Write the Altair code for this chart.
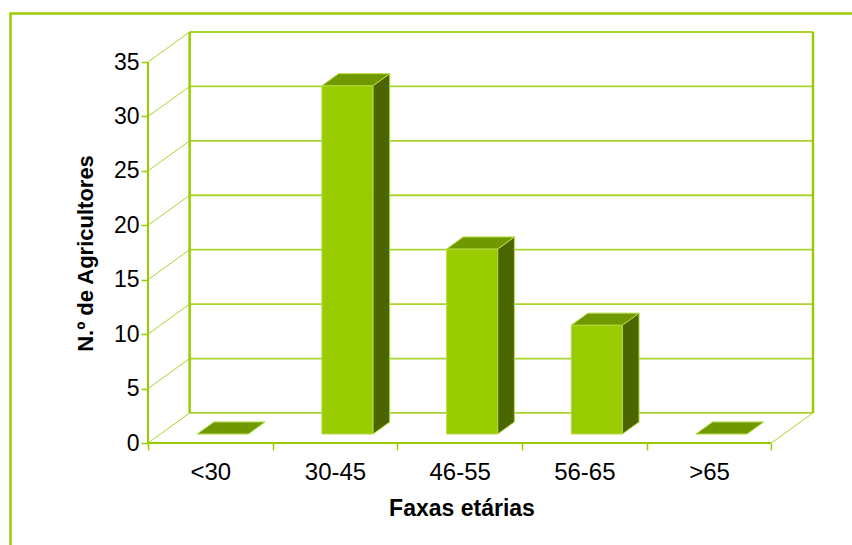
import altair as alt
import pandas as pd

# ---- data ----
CATEGORIES = ["<30", "30-45", "46-55", "56-65", ">65"]
COUNTS = [0, 32, 17, 10, 0]
Y_TICKS = [0, 5, 10, 15, 20, 25, 30, 35]
Y_MAX = 35
X_TITLE = "Faxas etárias"
Y_TITLE = "N.º de Agricultores"

# ---- pseudo-3D geometry (in data units) ----
N = len(CATEGORIES)
DEPTH_X = 0.334     # horizontal shift of the back wall, in categories
DEPTH_Y = 2.76      # vertical shift of the back wall, in counts
BAR_HALF = 0.205    # half bar width, in categories
BAR_D0, BAR_D1 = 0.3, 0.7  # bar depth span (0 = front, 1 = back)

FRONT = "#99cc00"
TOP = "#709900"
SIDE = "#4b6600"
EDGE = "#b5dd3c"
FRAME = "#99cc00"
GRID = "#a9d42c"
FONT = "Liberation Sans"

xscale = alt.Scale(domain=[0, N + DEPTH_X], nice=False, zero=False)
yscale = alt.Scale(domain=[0, Y_MAX + DEPTH_Y], nice=False, zero=False)

label_expr = "[" + ",".join("'" + c + "'" for c in CATEGORIES) + ",''][datum.value]"

X_AXIS = alt.Axis(
    values=list(range(N + 1)), labelExpr=label_expr, labelOffset=62.3,
    domain=False, grid=False, ticks=True, tickColor=FRAME, tickSize=7,
    tickWidth=1.5, labelFontSize=24, labelFont=FONT, labelColor="black",
    labelPadding=10, labelFlush=False, labelOverlap=False,
    title=X_TITLE, titleFont=FONT, titleFontSize=23, titleFontWeight="bold",
    titleColor="black", titleX=313.5, titleY=65, titleAlign="center",
    titleBaseline="middle",
)
Y_AXIS = alt.Axis(
    values=Y_TICKS, domain=False, grid=False, ticks=True, tickColor=FRAME,
    tickSize=7, tickWidth=1.5, labelFontSize=23, labelFont=FONT,
    labelColor="black", labelPadding=2, labelFlush=False,
    title=Y_TITLE, titleFont=FONT, titleFontSize=22, titleFontWeight="bold",
    titleColor="black", titleX=-63, titleY=221, titleAngle=-90,
    titleAlign="center", titleBaseline="middle",
)


def X(f):
    return alt.X(f, type="quantitative", scale=xscale, axis=X_AXIS)


def Y(f):
    return alt.Y(f, type="quantitative", scale=yscale, axis=Y_AXIS)


def segs(lines):
    rows = []
    for sid, pts in enumerate(lines):
        for k, (x, y) in enumerate(pts):
            rows.append({"sid": sid, "k": k, "x": x, "y": y})
    return pd.DataFrame(rows)


def line_layer(lines, color, width):
    return alt.Chart(segs(lines)).mark_line(color=color, strokeWidth=width).encode(
        x=X("x"), y=Y("y"), detail="sid:N", order="k:Q"
    )


# grid: diagonals on left wall, horizontals on back wall
diag = [[(0, t), (DEPTH_X, t + DEPTH_Y)] for t in Y_TICKS]
back = [[(DEPTH_X, t + DEPTH_Y), (N + DEPTH_X, t + DEPTH_Y)] for t in Y_TICKS]
wall_edges = [
    [(DEPTH_X, DEPTH_Y), (DEPTH_X, Y_MAX + DEPTH_Y)],
    [(N + DEPTH_X, DEPTH_Y), (N + DEPTH_X, Y_MAX + DEPTH_Y)],
]
front_axis = [[(0, 0), (0, Y_MAX)], [(0, 0), (N, 0)]]
floor_side = [[(N, 0), (N + DEPTH_X, DEPTH_Y)]]

# bar faces
front_rows, side_rows, top_rows = [], [], []
for i, (c, v) in enumerate(zip(CATEGORIES, COUNTS)):
    cx = i + 0.5
    if v > 0:
        front_rows.append({
            "cat": c,
            "x": cx - BAR_HALF + BAR_D0 * DEPTH_X,
            "x2": cx + BAR_HALF + BAR_D0 * DEPTH_X,
            "y": BAR_D0 * DEPTH_Y,
            "y2": v + BAR_D0 * DEPTH_Y,
        })
        for d in (BAR_D0, BAR_D1):
            side_rows.append({
                "cat": c,
                "x": cx + BAR_HALF + d * DEPTH_X,
                "top": v + d * DEPTH_Y,
                "bot": d * DEPTH_Y,
            })
    for d in (BAR_D0, BAR_D1):
        top_rows.append({
            "cat": c,
            "y": v + d * DEPTH_Y,
            "xl": cx - BAR_HALF + d * DEPTH_X,
            "xr": cx + BAR_HALF + d * DEPTH_X,
        })

front_df = pd.DataFrame(front_rows)
side_df = pd.DataFrame(side_rows)
top_df = pd.DataFrame(top_rows)

front = alt.Chart(front_df).mark_rect(
    color=FRONT, stroke=EDGE, strokeWidth=1
).encode(x=X("x"), x2="x2", y=Y("y"), y2="y2")

side = alt.Chart(side_df).mark_area(
    orient="vertical", color=SIDE, stroke=EDGE, strokeWidth=1
).encode(x=X("x"), y=Y("top"), y2="bot", detail="cat:N")

top = alt.Chart(top_df).mark_area(
    orient="horizontal", color=TOP, stroke=EDGE, strokeWidth=1
).encode(y=Y("y"), x=X("xl"), x2="xr", detail="cat:N")

border = alt.Chart(pd.DataFrame({"a": [0]})).mark_rect(
    fillOpacity=0, stroke=FRAME, strokeWidth=2.5
).encode(
    x=alt.value(-137.5), x2=alt.value(760), y=alt.value(-18.5), y2=alt.value(560)
)

chart = alt.layer(
    line_layer(diag, GRID, 1),
    line_layer(back, GRID, 1.8),
    line_layer(wall_edges, FRAME, 2.5),
    line_layer(front_axis, FRAME, 2),
    line_layer(floor_side, GRID, 1),
    front, side, top,
    border,
).properties(
    width=665, height=411,
    autosize=alt.AutoSizeParams(type="none"),
    padding={"left": 148, "top": 32, "right": 39, "bottom": 102},
    background="white",
).configure_view(stroke=None)

chart.save("out.html", embed_options={"renderer": "svg", "actions": False})
